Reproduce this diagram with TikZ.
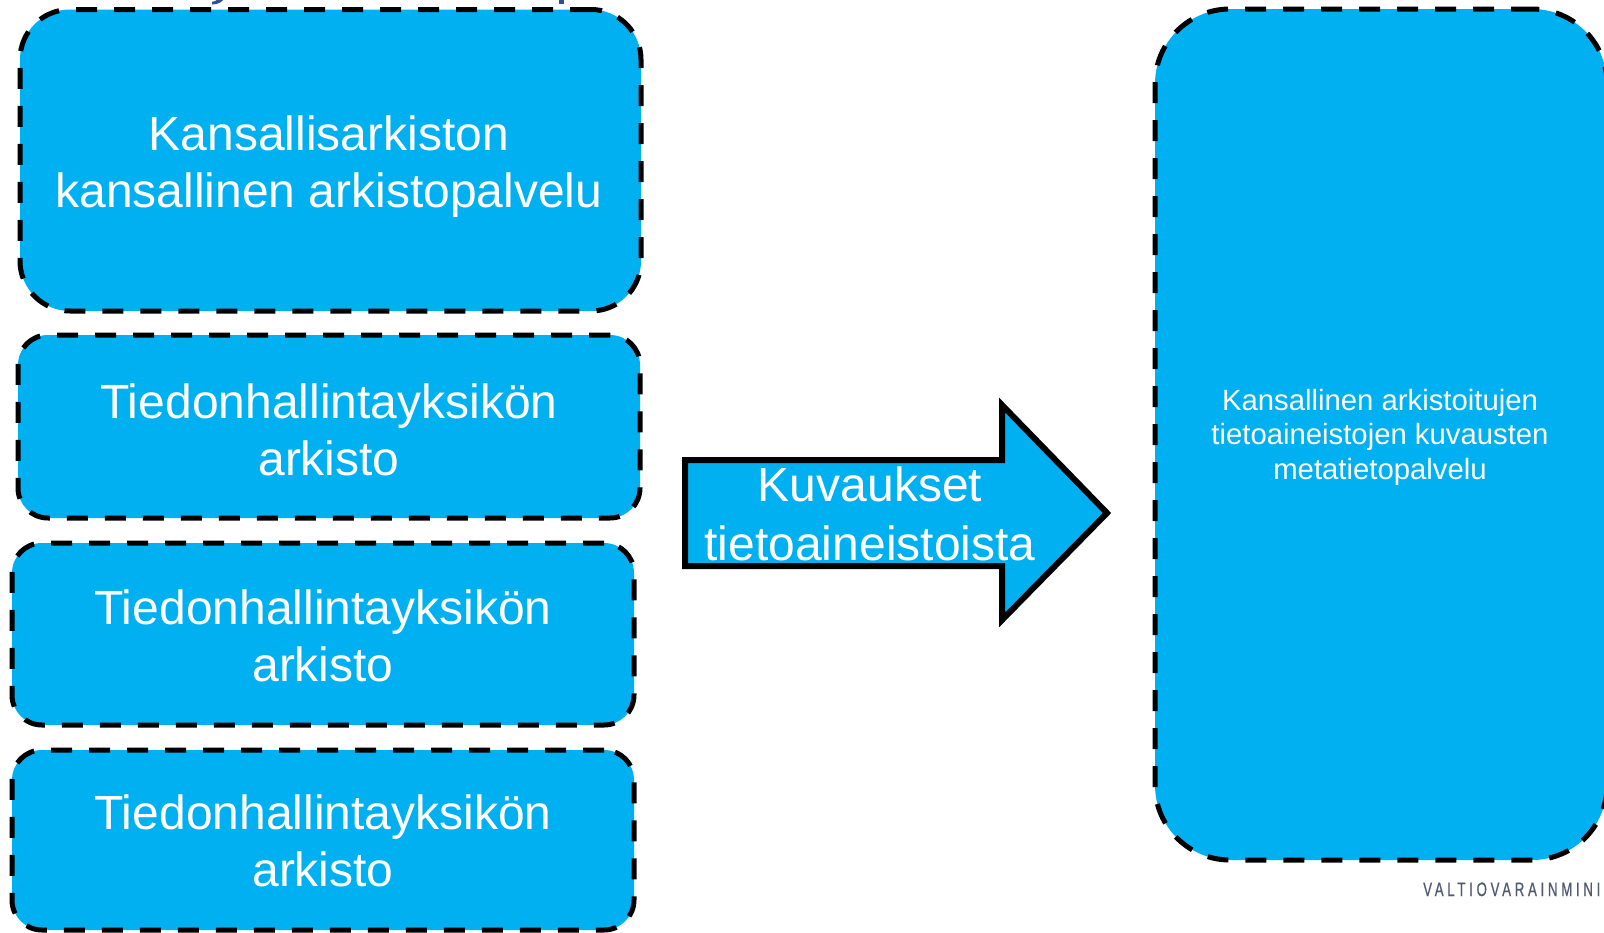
\documentclass[tikz,border=0pt]{standalone}
\usepackage{fontspec}
\setmainfont{Liberation Sans}
\newfontfamily\ministryfont[FakeStretch=0.68,LetterSpace=19,FakeBold=0.6]{Liberation Sans}
\definecolor{boxblue}{RGB}{0,176,240}
\definecolor{titleblue}{RGB}{47,80,150}
\definecolor{ministrygray}{RGB}{80,90,112}
\begin{document}
\begin{tikzpicture}[x=1pt,y=-1pt,
  dashbox/.style={draw=black, fill=boxblue, line width=5pt, dash pattern=on 21pt off 17pt, inner sep=0pt, outer sep=0pt},
  bigtext/.style={text=white, align=center, font=\fontsize{48}{57}\selectfont, inner sep=0pt},
  smalltext/.style={text=white, align=center, font=\fontsize{29.3}{34.5}\selectfont, inner sep=0pt},
  blockarrow/.style={draw=black, fill=boxblue, line width=6pt, line join=miter}]
\useasboundingbox (0,0) rectangle (1604,932);

% fragments of a cut-off title
\fill[titleblue] (212,4.5) .. controls (218,4.5) and (222,2) .. (224,-1) -- (218,-1) .. controls (216,1) and (214,1.8) .. (212,1.8) -- cycle;
\fill[titleblue] (559,-1) rectangle (564,3.5);

% left boxes
\node[dashbox, rounded corners=50pt, minimum width=621pt, minimum height=301.5pt] (national) at (330.5,160.25) {};
\node[dashbox, rounded corners=30pt, minimum width=622pt, minimum height=183pt] (unitA) at (329,426.5) {};
\node[dashbox, rounded corners=30pt, minimum width=622pt, minimum height=182pt] (unitB) at (323,634) {};
\node[dashbox, rounded corners=30pt, minimum width=622pt, minimum height=180pt] (unitC) at (323,840) {};

\node[bigtext] (nationalText) at (329,167) {Kansallisarkiston\\kansallinen arkistopalvelu};
\node[bigtext] (unitAText) at (329,430) {Tiedonhallintayksikön\\arkisto};
\node[bigtext] (unitBText) at (323,636) {Tiedonhallintayksikön\\arkisto};
\node[bigtext] (unitCText) at (323,841) {Tiedonhallintayksikön\\arkisto};

% right box
\node[dashbox, rounded corners=75pt, minimum width=452pt, minimum height=851pt] (meta) at (1381,434.5) {};
\node[smalltext] (metaText) at (1380,437) {Kansallinen arkistoitujen\\tietoaineistojen kuvausten\\metatietopalvelu};

% block arrow
\draw[blockarrow] (685,460) -- (1002,460) -- (1002,405) -- (1107,513) -- (1002,620) -- (1002,566) -- (685,566) -- cycle;
\node[text=white, align=center, font=\fontsize{48}{59}\selectfont, inner sep=0pt] (arrowText) at (870,514) {Kuvaukset\\tietoaineistoista};

% ministry logo text
\node[anchor=base west, text=ministrygray, font=\ministryfont\fontsize{19.5}{21}\selectfont, inner sep=0pt] (ministry) at (1423,896) {VALTIOVARAINMINI};
\end{tikzpicture}
\end{document}
